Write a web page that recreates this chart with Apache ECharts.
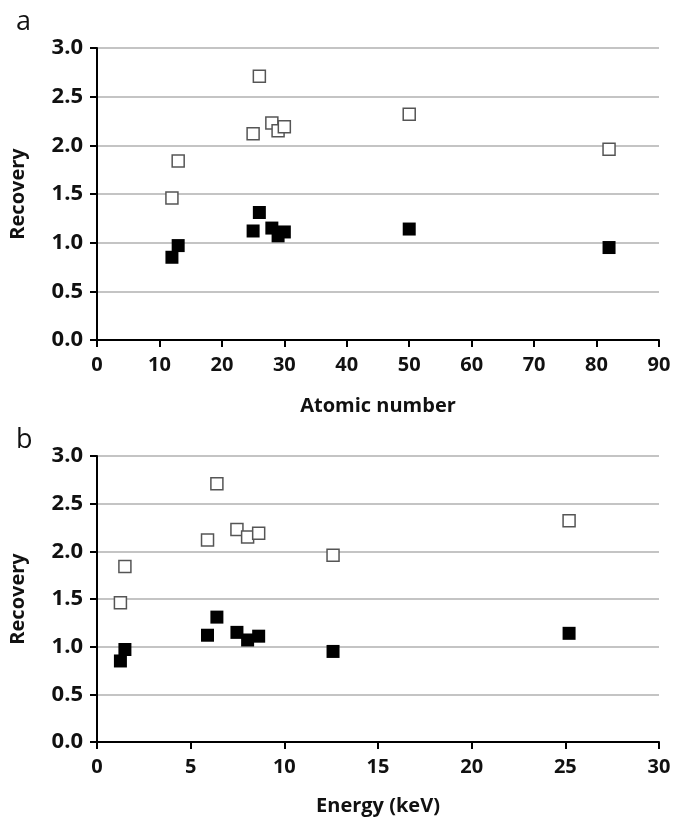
<!DOCTYPE html>
<html lang="en">
<head>
    <meta charset="UTF-8"/>
    <title>Recovery</title>
    <script type="text/javascript" src="https://cdn.jsdelivr.net/npm/echarts@6/dist/echarts.min.js"></script>
    <style>
        html, body { margin: 0; padding: 0; background: #fff; }
    </style>
</head>
<body>
<div id="main" style="width: 675px;height: 817px"></div>
<script type="text/javascript">
// element atomic numbers and line energies (keV)
var atomicNumber = [12, 13, 25, 26, 28, 29, 30, 50, 82];
var energy = [1.25, 1.49, 5.9, 6.4, 7.47, 8.04, 8.63, 25.2, 12.6];
// recovery, open squares and filled squares
var recoveryOpen = [1.46, 1.84, 2.12, 2.71, 2.23, 2.15, 2.19, 2.32, 1.96];
var recoveryFilled = [0.85, 0.97, 1.12, 1.31, 1.15, 1.07, 1.11, 1.14, 0.95];

function pairs(xs, ys) {
    var out = [];
    for (var i = 0; i < xs.length; i++) {
        out.push([xs[i], ys[i]]);
    }
    return out;
}

var font = '"Open Sans", "Liberation Sans", sans-serif';

function xAxis(idx, max, interval, name, gap) {
    return {
        type: 'value', gridIndex: idx, min: 0, max: max, interval: interval,
        name: name, nameLocation: 'middle', nameGap: gap,
        nameTextStyle: { fontFamily: font, fontWeight: 'bold', fontSize: 20, color: '#111' },
        axisLine: { onZero: false, lineStyle: { color: '#000', width: 2 } },
        axisTick: { show: true, length: 7, lineStyle: { color: '#000', width: 2 } },
        axisLabel: { fontFamily: font, fontWeight: 'bold', fontSize: 20, color: '#111', margin: 15 },
        splitLine: { show: false }
    };
}

function yAxis(idx) {
    return {
        type: 'value', gridIndex: idx, min: 0, max: 3, interval: 0.5,
        name: 'Recovery', nameLocation: 'middle', nameGap: 69,
        nameTextStyle: { fontFamily: font, fontWeight: 'bold', fontSize: 20, color: '#111' },
        axisLine: { show: true, lineStyle: { color: '#000', width: 2 } },
        axisTick: { show: true, length: 7, lineStyle: { color: '#000', width: 2 } },
        axisLabel: {
            fontFamily: font, fontWeight: 'bold', fontSize: 22, color: '#111', margin: 14,
            formatter: function (v) { return v.toFixed(1); }
        },
        splitLine: { show: true, lineStyle: { color: '#b0b0b0', width: 1.5 } }
    };
}

function openSeries(idx, data) {
    return {
        type: 'scatter', xAxisIndex: idx, yAxisIndex: idx, data: data,
        symbol: 'rect', symbolSize: 12,
        itemStyle: { color: '#fff', borderColor: '#555', borderWidth: 1.5, opacity: 1 }
    };
}

function filledSeries(idx, data) {
    return {
        type: 'scatter', xAxisIndex: idx, yAxisIndex: idx, data: data,
        symbol: 'rect', symbolSize: 13,
        itemStyle: { color: '#000', opacity: 1 }
    };
}

var myChart = echarts.init(document.getElementById('main'));

var option = {
    animation: false,
    backgroundColor: '#fff',
    title: [
        { text: 'a', left: 11, top: 4, textStyle: { fontFamily: font, fontWeight: 'normal', fontSize: 27, color: '#111' } },
        { text: 'b', left: 11, top: 422, textStyle: { fontFamily: font, fontWeight: 'normal', fontSize: 27, color: '#111' } }
    ],
    grid: [
        { left: 94, right: 16, top: 48, height: 292 },
        { left: 94, right: 16, top: 456, height: 293 }
    ],
    xAxis: [
        xAxis(0, 90, 10, 'Atomic number', 56),
        xAxis(1, 30, 5, 'Energy (keV)', 54)
    ],
    yAxis: [yAxis(0), yAxis(1)],
    series: [
        openSeries(0, pairs(atomicNumber, recoveryOpen)),
        filledSeries(0, pairs(atomicNumber, recoveryFilled)),
        openSeries(1, pairs(energy, recoveryOpen)),
        filledSeries(1, pairs(energy, recoveryFilled))
    ]
};

myChart.setOption(option);
</script>
</body>
</html>
